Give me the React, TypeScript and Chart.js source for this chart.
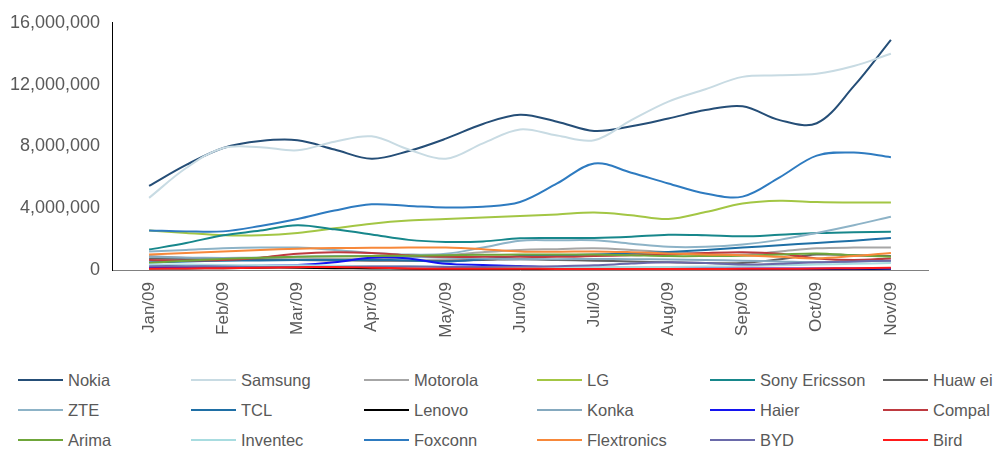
import React, { useEffect, useRef } from "react";
import { Chart, registerables } from "chart.js";

Chart.register(...registerables);

const months = ["Jan/09", "Feb/09", "Mar/09", "Apr/09", "May/09", "Jun/09", "Jul/09", "Aug/09", "Sep/09", "Oct/09", "Nov/09"];
const periods = [0, 0.5, 1, 1.5, 2, 2.5, 3, 3.5, 4, 4.5, 5, 5.5, 6, 6.5, 7, 7.5, 8, 8.5, 9, 9.5, 10];
const yTicks = [0, 4000000, 8000000, 12000000, 16000000];

const nokia = [5440000, 6800000, 7900000, 8350000, 8400000, 7800000, 7200000, 7700000, 8500000, 9450000, 10050000, 9600000, 9000000, 9300000, 9800000, 10350000, 10600000, 9700000, 9500000, 11900000, 14900000];
const samsung = [4670000, 6600000, 7900000, 7950000, 7750000, 8300000, 8650000, 7800000, 7200000, 8200000, 9100000, 8700000, 8400000, 9700000, 10900000, 11700000, 12500000, 12600000, 12700000, 13200000, 14000000];
const motorola = [900000, 800000, 720000, 700000, 700000, 720000, 750000, 800000, 950000, 1150000, 1300000, 1350000, 1400000, 1300000, 1150000, 1050000, 1000000, 1200000, 1400000, 1450000, 1450000];
const lg = [2550000, 2400000, 2250000, 2250000, 2400000, 2700000, 3000000, 3200000, 3300000, 3400000, 3500000, 3600000, 3720000, 3550000, 3300000, 3750000, 4300000, 4480000, 4400000, 4370000, 4370000];
const sonyEricsson = [1320000, 1750000, 2250000, 2550000, 2900000, 2630000, 2300000, 1950000, 1820000, 1850000, 2050000, 2070000, 2070000, 2150000, 2280000, 2250000, 2180000, 2280000, 2390000, 2450000, 2470000];
const huawei = [750000, 720000, 700000, 680000, 650000, 620000, 600000, 600000, 620000, 650000, 700000, 650000, 600000, 550000, 500000, 450000, 450000, 700000, 1000000, 950000, 900000];
const zte = [1200000, 1300000, 1400000, 1450000, 1450000, 1300000, 1100000, 1000000, 1050000, 1450000, 1900000, 1920000, 1920000, 1700000, 1500000, 1500000, 1650000, 1950000, 2400000, 2900000, 3450000];
const tcl = [500000, 550000, 600000, 620000, 650000, 650000, 650000, 620000, 550000, 700000, 900000, 950000, 1000000, 1080000, 1170000, 1300000, 1450000, 1600000, 1750000, 1900000, 2070000];
const lenovo = [100000, 100000, 120000, 150000, 150000, 120000, 100000, 80000, 60000, 50000, 50000, 50000, 50000, 60000, 80000, 80000, 70000, 60000, 50000, 60000, 80000];
const konka = [850000, 800000, 780000, 800000, 850000, 900000, 900000, 850000, 800000, 750000, 700000, 700000, 720000, 700000, 680000, 650000, 600000, 550000, 500000, 550000, 600000];
const haier = [150000, 200000, 250000, 280000, 320000, 500000, 800000, 750000, 400000, 320000, 260000, 150000, 100000, 100000, 100000, 100000, 100000, 100000, 100000, 100000, 100000];
const compal = [650000, 620000, 650000, 800000, 1050000, 1150000, 1100000, 950000, 850000, 850000, 850000, 850000, 900000, 950000, 1000000, 1100000, 1150000, 1050000, 750000, 650000, 750000];
const arima = [450000, 600000, 720000, 800000, 850000, 880000, 900000, 930000, 960000, 980000, 1000000, 1000000, 1000000, 950000, 900000, 900000, 920000, 1000000, 1070000, 950000, 850000];
const inventec = [350000, 350000, 330000, 300000, 300000, 280000, 250000, 250000, 220000, 200000, 200000, 200000, 200000, 200000, 200000, 220000, 250000, 300000, 350000, 400000, 450000];
const foxconn = [2560000, 2500000, 2500000, 2850000, 3300000, 3850000, 4250000, 4150000, 4050000, 4100000, 4400000, 5600000, 6900000, 6300000, 5600000, 4950000, 4750000, 6000000, 7400000, 7600000, 7300000];
const flextronics = [1000000, 1100000, 1200000, 1300000, 1380000, 1420000, 1440000, 1450000, 1450000, 1350000, 1200000, 1180000, 1200000, 1150000, 1070000, 1000000, 960000, 850000, 750000, 900000, 1100000];
const byd = [250000, 250000, 220000, 200000, 200000, 200000, 220000, 220000, 200000, 200000, 220000, 250000, 300000, 420000, 500000, 450000, 350000, 400000, 500000, 550000, 600000];
const bird = [80000, 100000, 120000, 150000, 180000, 200000, 150000, 100000, 80000, 80000, 80000, 70000, 60000, 60000, 60000, 60000, 80000, 80000, 100000, 120000, 150000];

const seriesNames = ["Nokia", "Samsung", "Motorola", "LG", "Sony Ericsson", "Huaw ei", "ZTE", "TCL", "Lenovo", "Konka", "Haier", "Compal", "Arima", "Inventec", "Foxconn", "Flextronics", "BYD", "Bird"];
const seriesValues = [nokia, samsung, motorola, lg, sonyEricsson, huawei, zte, tcl, lenovo, konka, haier, compal, arima, inventec, foxconn, flextronics, byd, bird];
const seriesColors = ["#254E77", "#C8DBE3", "#A6A6A6", "#A3C644", "#17878B", "#626262", "#8DB3C7", "#1F6FA5", "#000000", "#85A9BF", "#1414F0", "#BE3A40", "#6FA63A", "#A8DCE0", "#2E7BC0", "#F7883A", "#6A6AAA", "#FF1A1A"];

const FONT = '"Liberation Sans", Arial, sans-serif';
const TEXT = "#595959";

export default function App() {
  const ref = useRef<HTMLCanvasElement>(null);

  useEffect(() => {
    document.body.style.margin = "0";
    const canvas = ref.current;
    if (!canvas) return;
    const n = seriesNames.length;
    const chart = new Chart(canvas, {
      type: "line",
      data: {
        datasets: seriesNames.map((name, i) => ({
          label: name,
          data: seriesValues[i].map((v, k) => ({ x: periods[k], y: v })),
          borderColor: seriesColors[i],
          backgroundColor: seriesColors[i],
          borderWidth: 2,
          pointRadius: 0,
          pointHoverRadius: 0,
          tension: 0.35,
          fill: false,
          order: n - i,
        })),
      },
      options: {
        animation: false,
        responsive: false,
        maintainAspectRatio: false,
        layout: { padding: { left: 8, right: 69, top: 20, bottom: 0 } },
        plugins: { legend: { display: false }, tooltip: { enabled: false } },
        scales: {
          x: {
            type: "linear",
            min: -0.5,
            max: 10.5,
            afterBuildTicks: (axis: any) => {
              axis.ticks = months.map((_, i) => ({ value: i }));
            },
            afterFit: (s: any) => {
              s.height = 80;
            },
            grid: { display: false, drawTicks: false },
            border: { display: true, color: "#808080", width: 1 },
            ticks: {
              autoSkip: false,
              maxRotation: 90,
              minRotation: 90,
              padding: 12,
              color: TEXT,
              font: { family: FONT, size: 17 },
              callback: (v: any) => months[Number(v)] ?? "",
            },
          },
          y: {
            type: "linear",
            min: 0,
            max: 16000000,
            afterBuildTicks: (axis: any) => {
              axis.ticks = yTicks.map((v) => ({ value: v }));
            },
            afterFit: (s: any) => {
              s.width = 104;
            },
            grid: { display: false, drawTicks: false },
            border: { display: true, color: "#000000", width: 1 },
            ticks: {
              padding: 12,
              color: TEXT,
              font: { family: FONT, size: 18 },
              callback: (v: any) => Number(v).toLocaleString("en-US"),
            },
          },
        },
      },
    });
    return () => chart.destroy();
  }, []);

  return (
    <div style={{ position: "relative", width: 997, height: 449, background: "#fff", overflow: "hidden" }}>
      <canvas ref={ref} width={997} height={350} style={{ position: "absolute", left: 0, top: 0, width: 997, height: 350 }} />
      {seriesNames.map((name, i) => {
        const col = i % 6;
        const row = Math.floor(i / 6);
        return (
          <div
            key={name}
            style={{
              position: "absolute",
              left: 18 + col * 173,
              top: 366 + row * 30,
              height: 28,
              display: "flex",
              alignItems: "center",
              fontFamily: FONT,
              fontSize: 16.5,
              color: TEXT,
              whiteSpace: "nowrap",
            }}
          >
            <span style={{ display: "inline-block", width: 45, height: 2, background: seriesColors[i], marginRight: 5 }} />
            <span>{name}</span>
          </div>
        );
      })}
    </div>
  );
}
